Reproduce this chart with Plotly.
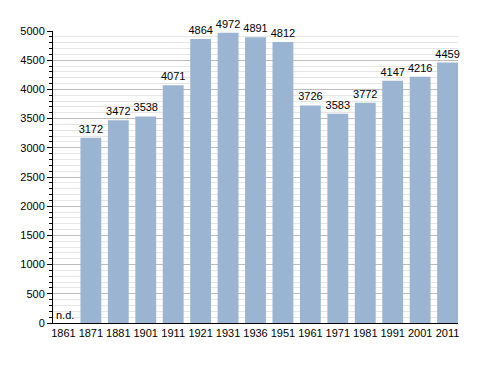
import plotly.graph_objects as go

years = ["1861", "1871", "1881", "1901", "1911", "1921", "1931", "1936",
         "1951", "1961", "1971", "1981", "1991", "2001", "2011"]
population = [None, 3172, 3472, 3538, 4071, 4864, 4972, 4891,
              4812, 3726, 3583, 3772, 4147, 4216, 4459]
labels = ["" if v is None else str(v) for v in population]
y_ticks = [0, 500, 1000, 1500, 2000, 2500, 3000, 3500, 4000, 4500, 5000]

fig = go.Figure()
fig.add_trace(go.Bar(
    x=years, y=population, text=labels, textposition="outside",
    constraintext="none",
    textfont=dict(size=11, color="#000000", family="Liberation Sans, Arial"),
    marker=dict(color="#9bb4d1", line=dict(width=0)),
    width=0.76, cliponaxis=False,
))
fig.add_annotation(x=-0.33, y=0, text="n.d.", showarrow=False,
                   xanchor="left", yanchor="bottom", yshift=0,
                   font=dict(size=11, color="#000000", family="Liberation Sans, Arial"))
fig.update_layout(
    width=488, height=373,
    margin=dict(l=42, r=38, t=23, b=58),
    plot_bgcolor="white", paper_bgcolor="white",
    showlegend=False,
    font=dict(family="Liberation Sans, Arial", size=11, color="#000000"),
)
fig.update_yaxes(
    range=[0, 5000], tickvals=y_ticks, ticks="outside", ticklen=5, tickcolor="#000",
    showline=True, linecolor="#000", linewidth=1,
    gridcolor="#bdbdbd", gridwidth=1,
    minor=dict(dtick=100, showgrid=True, gridcolor="#e6e6e6", ticks="outside",
               ticklen=3, tickcolor="#000"),
    tickfont=dict(size=11), zeroline=False,
)
fig.update_xaxes(
    type="category", categoryorder="array", categoryarray=years,
    range=[-0.38, len(years) - 1 + 0.38],
    showline=True, linecolor="#000", linewidth=1,
    ticks="", tickfont=dict(size=11), showgrid=False,
)
fig.write_html("out.html")
